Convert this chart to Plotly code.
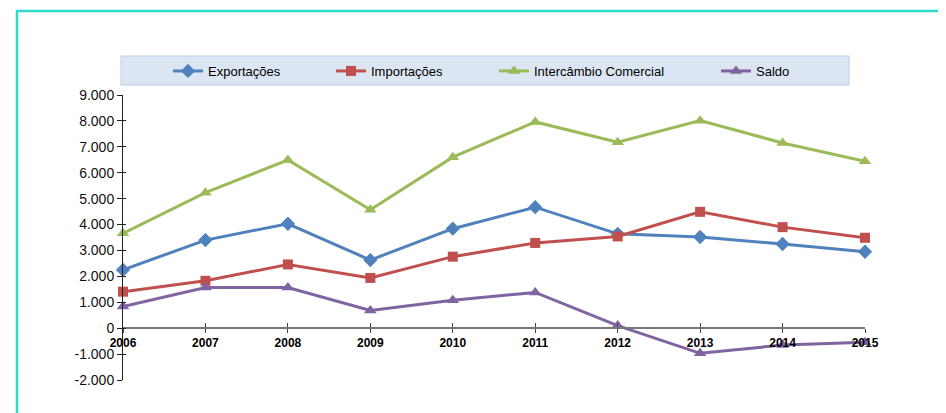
import plotly.graph_objects as go

years = [2006, 2007, 2008, 2009, 2010, 2011, 2012, 2013, 2014, 2015]
exportacoes = [2250, 3400, 4030, 2630, 3840, 4670, 3640, 3520, 3250, 2950]
importacoes = [1410, 1830, 2460, 1940, 2760, 3290, 3540, 4490, 3900, 3490]
intercambio = [3660, 5230, 6490, 4570, 6600, 7960, 7180, 8010, 7150, 6440]
saldo = [840, 1570, 1570, 680, 1080, 1380, 100, -970, -650, -540]

y_tickvals = [-2000, -1000, 0, 1000, 2000, 3000, 4000, 5000, 6000, 7000, 8000, 9000]
y_ticktext = ["-2.000", "-1.000", "0", "1.000", "2.000", "3.000", "4.000",
              "5.000", "6.000", "7.000", "8.000", "9.000"]

series = [
    ("Exportações", exportacoes, "#4F81BD", "diamond", 11, "legend"),
    ("Importações", importacoes, "#C0504D", "square", 10, "legend2"),
    ("Intercâmbio Comercial", intercambio, "#9BBB59", "triangle-up", 11, "legend3"),
    ("Saldo", saldo, "#8064A2", "triangle-up", 11, "legend4"),
]

fig = go.Figure()
# invisible helper trace so the overlay axes (for crossing tick marks) are drawn
fig.add_trace(go.Scatter(x=[], y=[], xaxis="x2", yaxis="y2", showlegend=False,
                         hoverinfo="skip"))
for name, vals, color, sym, size, lg in series:
    fig.add_trace(go.Scatter(
        x=years, y=vals, name=name, mode="lines+markers",
        line=dict(color=color, width=3),
        marker=dict(symbol=sym, size=size, color=color),
        legend=lg, cliponaxis=False,
    ))

# page body has an 8px margin; figure placed at (8, 8) on screen
OFF = 8
W, H = 946 - OFF, 413 - OFF
ml, mt = 123 - OFF, 95 - OFF
pw, ph = 742, 285
mr = W - ml - pw
mb = H - mt - ph

def px(x):
    return (x - OFF - ml) / pw

def py(y):
    return (mt + ph - (y - OFF)) / ph

legend_font = dict(family="Liberation Sans, Arial, sans-serif", size=13, color="#000")
leg_common = dict(orientation="h", xanchor="left", yanchor="middle", y=py(71),
                  bgcolor="rgba(0,0,0,0)", borderwidth=0, font=legend_font,
                  itemwidth=30, tracegroupgap=0)

xrange_ = [2006, 2015]
yrange_ = [-2000, 9000]

fig.update_layout(
    width=W, height=H,
    margin=dict(l=ml, r=mr, t=mt, b=mb),
    paper_bgcolor="white", plot_bgcolor="white",
    showlegend=True,
    legend=dict(x=px(168), **leg_common),
    legend2=dict(x=px(331), **leg_common),
    legend3=dict(x=px(494), **leg_common),
    legend4=dict(x=px(716), **leg_common),
    xaxis=dict(
        range=xrange_, anchor="free", position=2 / 11,
        tickvals=years, ticktext=[str(y) for y in years],
        showline=True, linecolor="#777", linewidth=2,
        ticks="inside", ticklen=4, tickcolor="#444", tickwidth=1,
        ticklabelstandoff=3,
        tickfont=dict(family="Liberation Sans, Arial, sans-serif", size=12, color="#000", weight="bold"),
        showgrid=False, zeroline=False, fixedrange=True,
    ),
    xaxis2=dict(
        range=xrange_, overlaying="x", anchor="free", position=2 / 11,
        tickvals=years, showticklabels=False, showline=False,
        ticks="outside", ticklen=4, tickcolor="#444", tickwidth=1,
        showgrid=False, zeroline=False, fixedrange=True,
    ),
    yaxis=dict(
        range=yrange_, tickvals=y_tickvals, ticktext=y_ticktext,
        showline=True, linecolor="#222", linewidth=1,
        ticks="outside", ticklen=5, tickcolor="#222",
        tickfont=dict(family="Liberation Sans, Arial, sans-serif", size=14, color="#111"),
        showgrid=False, zeroline=False, fixedrange=True,
    ),
    yaxis2=dict(
        range=yrange_, overlaying="y", side="left", anchor="x",
        tickvals=y_tickvals, showticklabels=False, showline=False,
        ticks="inside", ticklen=3, tickcolor="#222",
        showgrid=False, zeroline=False, fixedrange=True,
    ),
    shapes=[
        dict(type="rect", xref="paper", yref="paper",
             x0=px(121), x1=px(849), y0=py(85), y1=py(56),
             fillcolor="#DCE6F2", line=dict(color="#B9CDE5", width=1), layer="below"),
        dict(type="rect", xref="paper", yref="paper",
             x0=px(17), x1=px(990), y0=py(440), y1=py(11),
             fillcolor="rgba(0,0,0,0)", line=dict(color="#2EDBC8", width=2.5), layer="above"),
    ],
)

fig.write_html("out.html")
